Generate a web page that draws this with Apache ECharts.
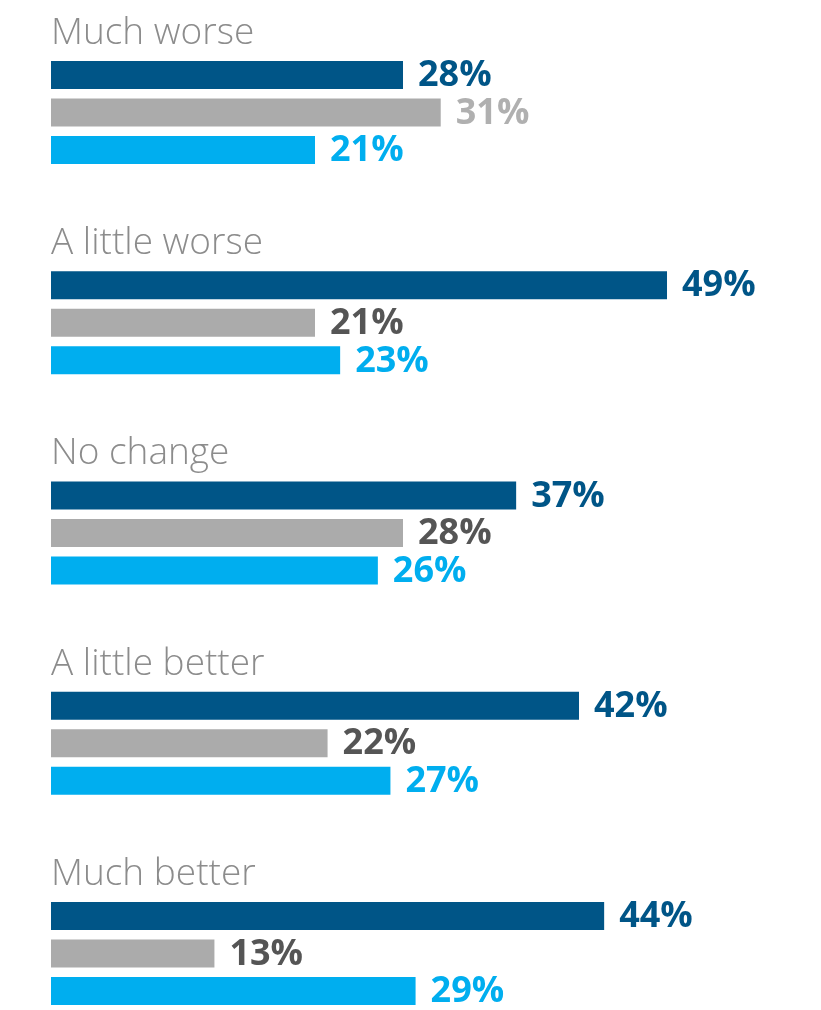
<!DOCTYPE html>
<html>
<head>
<meta charset="utf-8">
<script src="https://cdn.jsdelivr.net/npm/echarts@6/dist/echarts.min.js"></script>
<style>
  html, body { margin: 0; padding: 0; background: #ffffff; }
  #chart { width: 821px; height: 1010px; }
</style>
</head>
<body>
<div id="chart"></div>
<script>
// Response categories, top to bottom
const categories = ['Much worse', 'A little worse', 'No change', 'A little better', 'Much better'];

// Percentages for the three respondent groups
const seriesDark = [28, 49, 37, 42, 44];
const seriesGray = [31, 21, 28, 22, 13];
const seriesLight = [21, 23, 26, 27, 29];

// Value-label colour for the grey bars (the first row uses a lighter tone)
const grayLabelColors = ['#b0b0b0', '#555555', '#555555', '#555555', '#555555'];

const COLORS = { dark: '#005587', gray: '#ababab', light: '#00aeef' };
const VALUE_FONT = { fontFamily: 'Open Sans', fontWeight: 700, fontSize: 36 };

function valueSeries(name, values, color, labelColors) {
  return {
    name: name,
    type: 'bar',
    barWidth: 28,
    barGap: '34%',
    data: values.map((v, i) => ({
      value: v,
      label: { color: labelColors ? labelColors[i] : color }
    })),
    itemStyle: { color: color },
    label: Object.assign({
      show: true,
      position: 'right',
      distance: 15,
      offset: [0, 1],
      formatter: '{c}%'
    }, VALUE_FONT),
    silent: true
  };
}

const chart = echarts.init(document.getElementById('chart'), null, { renderer: 'canvas' });

chart.setOption({
  animation: false,
  grid: {
    left: 51, top: -11.4, width: 754.3, height: 1051.25,
    outerBoundsMode: 'none', containLabel: false
  },
  xAxis: {
    type: 'value', min: 0, max: 60,
    show: false
  },
  yAxis: {
    type: 'category', data: categories, inverse: true,
    show: false
  },
  series: [
    {
      // zero-length bars that carry the category headings above each group
      name: 'heading',
      type: 'bar',
      barWidth: 28,
      barGap: '34%',
      data: categories.map(() => 0),
      itemStyle: { color: 'rgba(0,0,0,0)' },
      label: {
        show: true,
        position: 'right',
        distance: 0,
        offset: [0, -4],
        formatter: (p) => p.name,
        color: '#8c8c8c',
        fontFamily: 'Open Sans',
        fontWeight: 300,
        fontSize: 37
      },
      silent: true
    },
    valueSeries('dark', seriesDark, COLORS.dark),
    valueSeries('gray', seriesGray, COLORS.gray, grayLabelColors),
    valueSeries('light', seriesLight, COLORS.light)
  ]
});
</script>
</body>
</html>
